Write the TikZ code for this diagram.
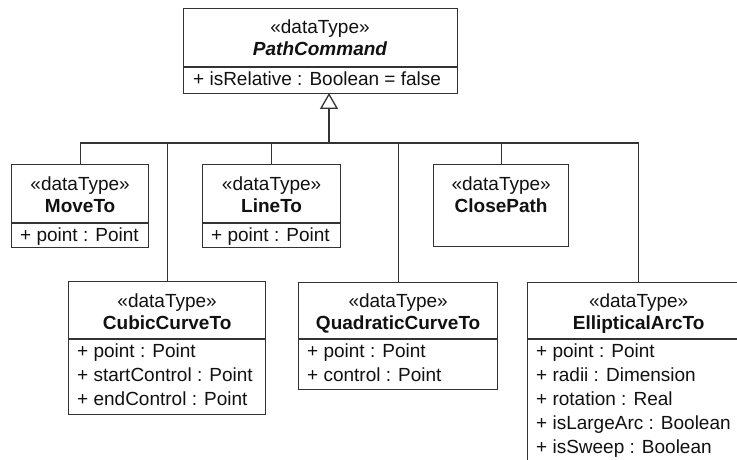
\documentclass[tikz,border=0pt]{standalone}
\usepackage{fontspec}
\setmainfont{Liberation Sans}
\usetikzlibrary{arrows.meta}
\definecolor{linec}{HTML}{333333}
\definecolor{textc}{HTML}{111111}
\begin{document}
\begin{tikzpicture}[x=1pt,y=-1pt,
  box/.style={draw=linec, line width=1.3pt, fill=white, inner sep=0pt, anchor=north west},
  conn/.style={draw=linec, line width=1.3pt},
  stereo/.style={inner sep=0pt, anchor=base, text=textc, font=\fontsize{19}{23}\selectfont},
  cname/.style={inner sep=0pt, anchor=base, text=textc, font=\fontsize{19}{23}\selectfont\bfseries},
  attr/.style={inner sep=0pt, anchor=base west, text=textc, font=\fontsize{19}{23}\selectfont},
  divider/.style={draw=linec, line width=1.3pt}]
\useasboundingbox (0,0) rectangle (737,460);
\fill[white] (0,0) rectangle (737,460);
\clip (0,0) rectangle (737,460);

% PathCommand
\node[box, minimum width=274pt, minimum height=85pt] (pc) at (183,8) {};
\node[stereo] (pcS) at (320,34) {«dataType»};
\node[cname, font=\fontsize{19}{23}\selectfont\bfseries\itshape] (pcN) at (320,56) {PathCommand};
\draw[divider] (pc.west |- 0,67) -- (pc.east |- 0,67);
\node[attr] (pcA1) at (193,86) {+ isRelative : Boolean = false};

% MoveTo
\node[box, minimum width=137pt, minimum height=83pt] (mv) at (11,164) {};
\node[stereo] (mvS) at (mv.north |- 0,190) {«dataType»};
\node[cname] (mvN) at (mv.north |- 0,212) {MoveTo};
\draw[divider] (mv.west |- 0,223) -- (mv.east |- 0,223);
\node[attr] (mvA1) at (20,241) {+ point : Point};

% LineTo
\node[box, minimum width=138pt, minimum height=83pt] (ln) at (202,164) {};
\node[stereo] (lnS) at (ln.north |- 0,190) {«dataType»};
\node[cname] (lnN) at (ln.north |- 0,212) {LineTo};
\draw[divider] (ln.west |- 0,223) -- (ln.east |- 0,223);
\node[attr] (lnA1) at (211,241) {+ point : Point};

% ClosePath
\node[box, minimum width=135pt, minimum height=82pt] (cp) at (433,164) {};
\node[stereo] (cpS) at (cp.north |- 0,190) {«dataType»};
\node[cname] (cpN) at (cp.north |- 0,212) {ClosePath};

% CubicCurveTo
\node[box, minimum width=197pt, minimum height=133pt] (cc) at (68,281) {};
\node[stereo] (ccS) at (cc.north |- 0,307) {«dataType»};
\node[cname] (ccN) at (cc.north |- 0,329) {CubicCurveTo};
\draw[divider] (cc.west |- 0,339) -- (cc.east |- 0,339);
\node[attr] (ccA1) at (77,357) {+ point : Point};
\node[attr] (ccA2) at (77,381) {+ startControl : Point};
\node[attr] (ccA3) at (77,405) {+ endControl : Point};

% QuadraticCurveTo
\node[box, minimum width=199pt, minimum height=107pt] (qc) at (298,282) {};
\node[stereo] (qcS) at (qc.north |- 0,307) {«dataType»};
\node[cname] (qcN) at (qc.north |- 0,329) {QuadraticCurveTo};
\draw[divider] (qc.west |- 0,339) -- (qc.east |- 0,339);
\node[attr] (qcA1) at (307,357) {+ point : Point};
\node[attr] (qcA2) at (307,381) {+ control : Point};

% EllipticalArcTo
\node[box, minimum width=222pt, minimum height=182pt] (ea) at (527,282) {};
\node[stereo] (eaS) at (ea.north |- 0,307) {«dataType»};
\node[cname] (eaN) at (ea.north |- 0,329) {EllipticalArcTo};
\draw[divider] (ea.west |- 0,339) -- (ea.east |- 0,339);
\node[attr] (eaA1) at (536,357) {+ point : Point};
\node[attr] (eaA2) at (536,381) {+ radii : Dimension};
\node[attr] (eaA3) at (536,405) {+ rotation : Real};
\node[attr] (eaA4) at (536,429) {+ isLargeArc : Boolean};
\node[attr] (eaA5) at (536,453) {+ isSweep : Boolean};

% generalization tree
\coordinate (bus) at (0,143);
\coordinate (apex) at (329,93);
\draw[conn] (mv.north) -- (mv.north |- bus) -- (ea.north |- bus) -- (ea.north);
\draw[conn] (cc.north) -- (cc.north |- bus);
\draw[conn] (ln.north) -- (ln.north |- bus);
\draw[conn] (qc.north) -- (qc.north |- bus);
\draw[conn] (cp.north) -- (cp.north |- bus);
\draw[conn, -{Triangle[open, width=18pt, length=16pt, line width=1.3pt, fill=white]}] (apex |- bus) -- (apex);
\end{tikzpicture}
\end{document}
